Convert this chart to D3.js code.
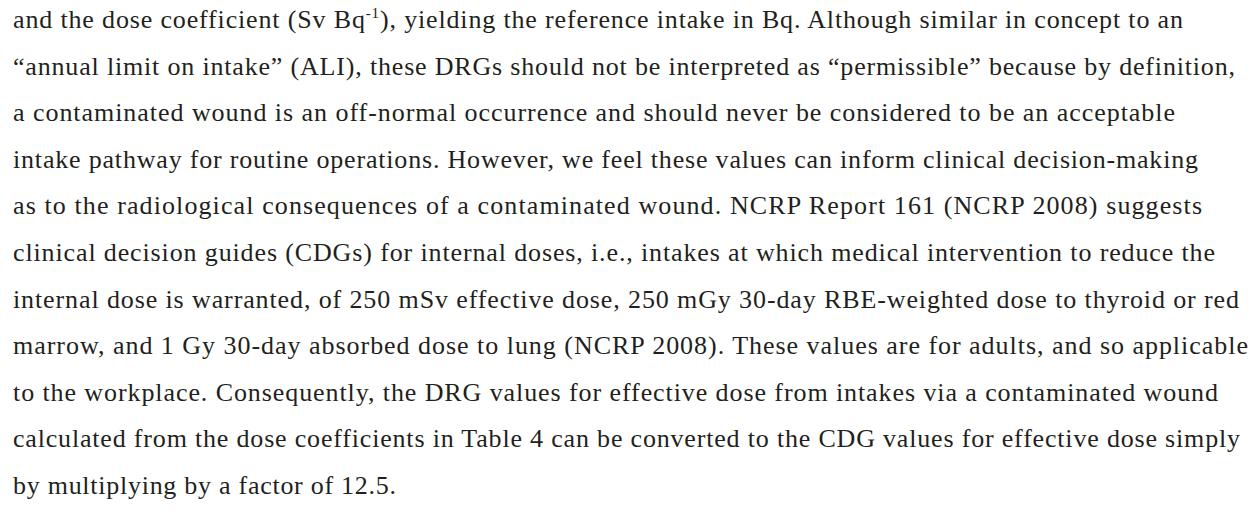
<!DOCTYPE html>
<html lang="en">
<head>
  <meta charset="UTF-8">
  <title>Contaminated wound DRG text</title>
  <script src="https://d3js.org/d3.v7.min.js"></script>
  <style>
    body { margin: 0; background: #fff; }
    text { font-family: "Liberation Serif", "DejaVu Serif", serif; fill: #231f20; }
  </style>
</head>
<body>
  <svg width="1258" height="517"></svg>
  <script>
    // paragraph lines, as broken in the reference; [text, superscript] segments
    const lines = [
      [["and the dose coefficient (Sv Bq"], ["-1", "sup"], ["), yielding the reference intake in Bq. Although similar in concept to an"]],
      [["\u201cannual limit on intake\u201d (ALI), these DRGs should not be interpreted as \u201cpermissible\u201d because by definition,"]],
      [["a contaminated wound is an off-normal occurrence and should never be considered to be an acceptable"]],
      [["intake pathway for routine operations. However, we feel these values can inform clinical decision-making"]],
      [["as to the radiological consequences of a contaminated wound. NCRP Report 161 (NCRP 2008) suggests"]],
      [["clinical decision guides (CDGs) for internal doses, i.e., intakes at which medical intervention to reduce the"]],
      [["internal dose is warranted, of 250 mSv effective dose, 250 mGy 30-day RBE-weighted dose to thyroid or red"]],
      [["marrow, and 1 Gy 30-day absorbed dose to lung (NCRP 2008). These values are for adults, and so applicable"]],
      [["to the workplace. Consequently, the DRG values for effective dose from intakes via a contaminated wound"]],
      [["calculated from the dose coefficients in Table 4 can be converted to the CDG values for effective dose simply"]],
      [["by multiplying by a factor of 12.5."]]
    ];
    // right edge of each line in the reference (px)
    const lineEnds = [1183, 1235, 1175, 1198, 1202, 1215, 1239, 1248, 1218, 1240, 396];

    const marginLeft = 13, firstBase = 28, lead = 46.6;
    const svg = d3.select("svg");
    const y = d3.scaleLinear().domain([0, 1]).range([firstBase, firstBase + lead]);

    const txt = svg.append("g").selectAll("text")
      .data(lines)
      .enter().append("text")
      .attr("x", marginLeft)
      .attr("y", (d, i) => y(i))
      .attr("font-size", 26)
      .attr("textLength", (d, i) => lineEnds[i] - marginLeft)
      .attr("lengthAdjust", "spacing");

    txt.selectAll("tspan")
      .data(d => d)
      .enter().append("tspan")
      .attr("font-size", s => s[1] === "sup" ? 15 : null)
      .attr("dy", s => s[1] === "sup" ? -10 : null)
      .text(s => s[0]);

    // drop back to the baseline after a superscript
    txt.selectAll("tspan").filter((s, j, nodes) => j > 0 && d3.select(nodes[j - 1]).datum()[1] === "sup")
      .attr("dy", 10);
  </script>
</body>
</html>
